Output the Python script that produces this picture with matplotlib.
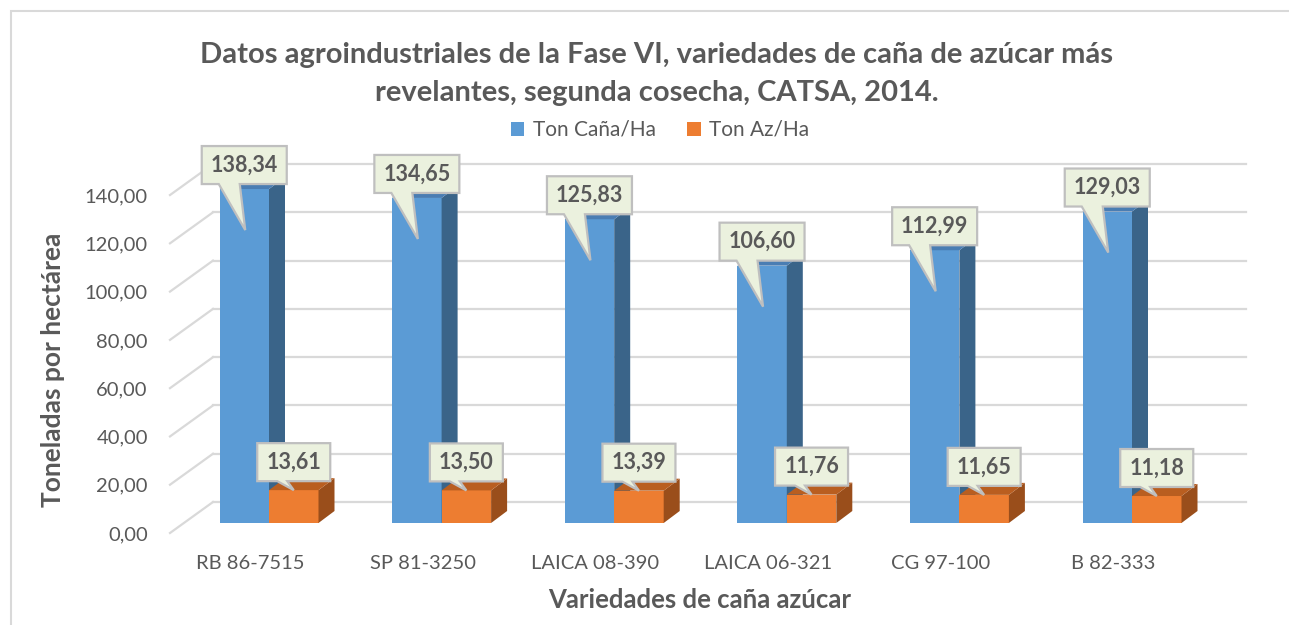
import numpy as np
import matplotlib
matplotlib.use('Agg')
import matplotlib.pyplot as plt
from matplotlib.patches import Polygon, Rectangle, Patch

plt.rcParams['font.family'] = ['Lato', 'DejaVu Sans']

variedades = ['RB 86-7515', 'SP 81-3250', 'LAICA 08-390', 'LAICA 06-321', 'CG 97-100', 'B 82-333']
ton_cana = [138.34, 134.65, 125.83, 106.60, 112.99, 129.03]
ton_az = [13.61, 13.50, 13.39, 11.76, 11.65, 11.18]
y_ticks = [0, 20, 40, 60, 80, 100, 120, 140]

TXT = '#595959'
GRID = '#d9d9d9'
BLUE, BLUE_TOP, BLUE_SIDE = '#5b9bd5', '#4a7db3', '#3a6489'
ORANGE, ORANGE_TOP, ORANGE_SIDE = '#ed7d31', '#b95e20', '#9a4e1b'
CALL_FILL, CALL_EDGE = '#ebf1de', '#bfbfbf'

W, H = 1289, 625
fig = plt.figure(figsize=(W / 100, H / 100), dpi=100)

# axes placed so that 0 sits on the bar base and 1 unit ~ 2.414 px
px_per_unit = 2.414
ax_left, ax_right = 170, 1246
ax_top, ax_bottom = 150, 540
base_px = 523
ax = fig.add_axes([ax_left / W, 1 - ax_bottom / H, (ax_right - ax_left) / W, (ax_bottom - ax_top) / H])
ax.set_ylim(-(ax_bottom - base_px) / px_per_unit, (base_px - ax_top) / px_per_unit)
step_px = 172.6
first_px = 269
ax.set_xlim((ax_left - first_px) / step_px, (ax_right - first_px) / step_px)
for s in ax.spines.values():
    s.set_visible(False)
ax.set_facecolor('none')

# depth offsets of the pseudo 3D look
dx = 16 / step_px
dy = 12 / px_per_unit
back_off = 21 / px_per_unit
front_off = -10 / px_per_unit
back_x = (213 - first_px) / step_px
front_x = (ax_left - first_px) / step_px
right_x = (ax_right - first_px) / step_px

# back wall gridlines + side wall diagonals
for v in y_ticks:
    ax.plot([back_x, right_x], [v + back_off, v + back_off], color=GRID, lw=1.6, zorder=1, clip_on=False)
    ax.plot([front_x, back_x], [v + front_off, v + back_off], color=GRID, lw=1.6, zorder=1, clip_on=False)

ax.set_yticks([v + front_off for v in y_ticks])
ax.set_yticklabels([f'{v:.2f}'.replace('.', ',') for v in y_ticks], fontsize=14.5, color=TXT)
ax.tick_params(axis='y', length=0, pad=16)

x = np.arange(len(variedades))
bw = 49.5 / step_px
label_shift = -19 / step_px
ax.set_xticks(x + label_shift)
ax.set_xticklabels(variedades, fontsize=14.5, color=TXT)
ax.tick_params(axis='x', length=0, pad=11)


def draw_3d_bar(xl, h, front, top, side, z):
    ax.bar(xl, h, width=bw, align='edge', color=front, zorder=z)
    xr = xl + bw
    ax.add_patch(Polygon([[xr, 0], [xr + dx, dy], [xr + dx, h + dy], [xr, h]],
                         closed=True, facecolor=side, edgecolor='none', zorder=z))
    ax.add_patch(Polygon([[xl, h], [xl + dx, h + dy], [xr + dx, h + dy], [xr, h]],
                         closed=True, facecolor=top, edgecolor='none', zorder=z))


for i in range(len(variedades)):
    draw_3d_bar(x[i] - bw, ton_cana[i], BLUE, BLUE_TOP, BLUE_SIDE, 3 + i * 0.1)
    draw_3d_bar(x[i], ton_az[i], ORANGE, ORANGE_TOP, ORANGE_SIDE, 3.05 + i * 0.1)


def callout(cx, cy, text, bw_px, box_dy, base_a, base_b, tip_dx, tip_dy):
    # cx, cy: data anchor; everything else in pixels (image y grows downward)
    px, py = ax.transData.transform((cx, cy))
    py = H - py
    left = px - bw_px / 2
    right = px + bw_px / 2
    bottom = py - box_dy
    top = bottom - 38
    pts = [(left, top), (right, top), (right, bottom), (left + base_b, bottom),
           (px + tip_dx, py + tip_dy), (left + base_a, bottom), (left, bottom)]
    pts = [(a / W, 1 - b / H) for a, b in pts]
    fig.patches.append(Polygon(pts, closed=True, facecolor=CALL_FILL, edgecolor=CALL_EDGE,
                               lw=1.6, transform=fig.transFigure, zorder=10))
    fig.text(px / W, 1 - (bottom - 19) / H, text, ha='center', va='center', fontsize=15.5,
             fontweight='bold', color=TXT, zorder=11)


for i in range(len(variedades)):
    callout(x[i] - bw / 2, ton_cana[i], f'{ton_cana[i]:.2f}'.replace('.', ','), 85, 5, 17, 38, 1, 41)
    callout(x[i] + bw / 2, ton_az[i], f'{ton_az[i]:.2f}'.replace('.', ','), 73, 9, 20, 30, 0, 0)

# titles
fig.text(657 / W, 1 - 55 / H, 'Datos agroindustriales de la Fase VI, variedades de caña de azúcar más',
         ha='center', va='center', fontsize=21, fontweight='bold', color=TXT)
fig.text(657 / W, 1 - 93 / H, 'revelantes, segunda cosecha, CATSA, 2014.',
         ha='center', va='center', fontsize=21, fontweight='bold', color=TXT)
fig.text(53 / W, 1 - 370 / H, 'Toneladas por hectárea', rotation=90, ha='center', va='center',
         fontsize=19, fontweight='bold', color=TXT)
fig.text(700 / W, 1 - 600 / H, 'Variedades de caña azúcar', ha='center', va='center',
         fontsize=18.5, fontweight='bold', color=TXT)

handles = [Patch(facecolor=BLUE, label='Ton Caña/Ha'), Patch(facecolor=ORANGE, label='Ton Az/Ha')]
leg = fig.legend(handles=handles, loc='center', bbox_to_anchor=(660 / W, 1 - 130 / H), ncol=2,
                 frameon=False, fontsize=15, handlelength=0.65, handleheight=0.65,
                 handletextpad=0.4, columnspacing=1.5)
for t in leg.get_texts():
    t.set_color(TXT)

# chart frame
fig.patches.append(Rectangle((11 / W, -0.05), 1.1, 1 - 11 / H + 0.05, transform=fig.transFigure,
                             facecolor='none', edgecolor=GRID, lw=1.5))

fig.savefig('out.png', dpi=100)
